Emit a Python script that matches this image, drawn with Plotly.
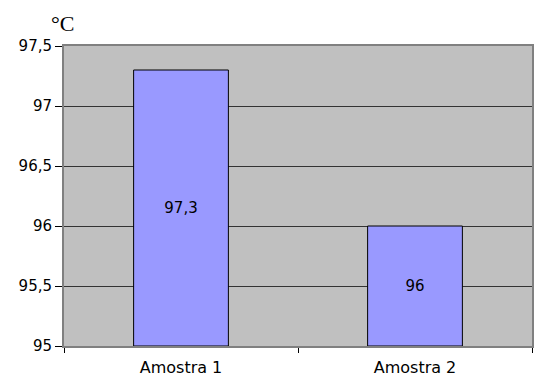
import plotly.graph_objects as go

categories = ["Amostra 1", "Amostra 2"]
temperaturas = [97.3, 96.0]
rotulos = ["97,3", "96"]
y_ticks = [95, 95.5, 96, 96.5, 97, 97.5]
base_eixo = 95

fig = go.Figure(go.Bar(
    x=categories,
    y=[v - base_eixo for v in temperaturas],
    base=base_eixo,
    text=rotulos,
    textposition="inside",
    insidetextanchor="middle",
    textangle=0,
    constraintext="none",
    textfont=dict(family="DejaVu Sans", size=15, color="black"),
    marker=dict(color="#9999ff", line=dict(color="#000000", width=1)),
    width=0.405,
))

fig.update_layout(
    width=535, height=378,
    margin=dict(l=64, r=1, t=46, b=30),
    paper_bgcolor="white",
    plot_bgcolor="#c0c0c0",
    separators=",.",
    showlegend=False,
    uniformtext=dict(minsize=15, mode="show"),
    font=dict(family="DejaVu Sans", size=15, color="black"),
    annotations=[dict(
        text="°C", xref="paper", yref="paper", x=0, y=1, xanchor="center",
        yanchor="bottom", xshift=-2, yshift=8, showarrow=False,
        font=dict(family="Liberation Serif, Times New Roman", size=22, color="black"),
    )],
)
fig.update_xaxes(
    type="category",
    tickson="boundaries",
    ticks="outside", ticklen=5, tickcolor="#000000",
    ticklabelstandoff=6,
    showgrid=False,
    showline=True, linecolor="#808080", linewidth=2, mirror=True,
    tickfont=dict(family="DejaVu Sans", size=16),
)
fig.update_yaxes(
    range=[95, 97.5],
    tickvals=y_ticks,
    tickformat=".1~f",
    ticks="outside", ticklen=7, tickcolor="#000000",
    gridcolor="#333333", gridwidth=1,
    showline=True, linecolor="#808080", linewidth=2, mirror=True,
    zeroline=False,
    tickfont=dict(family="DejaVu Sans", size=15),
)

fig.write_html("out.html")
